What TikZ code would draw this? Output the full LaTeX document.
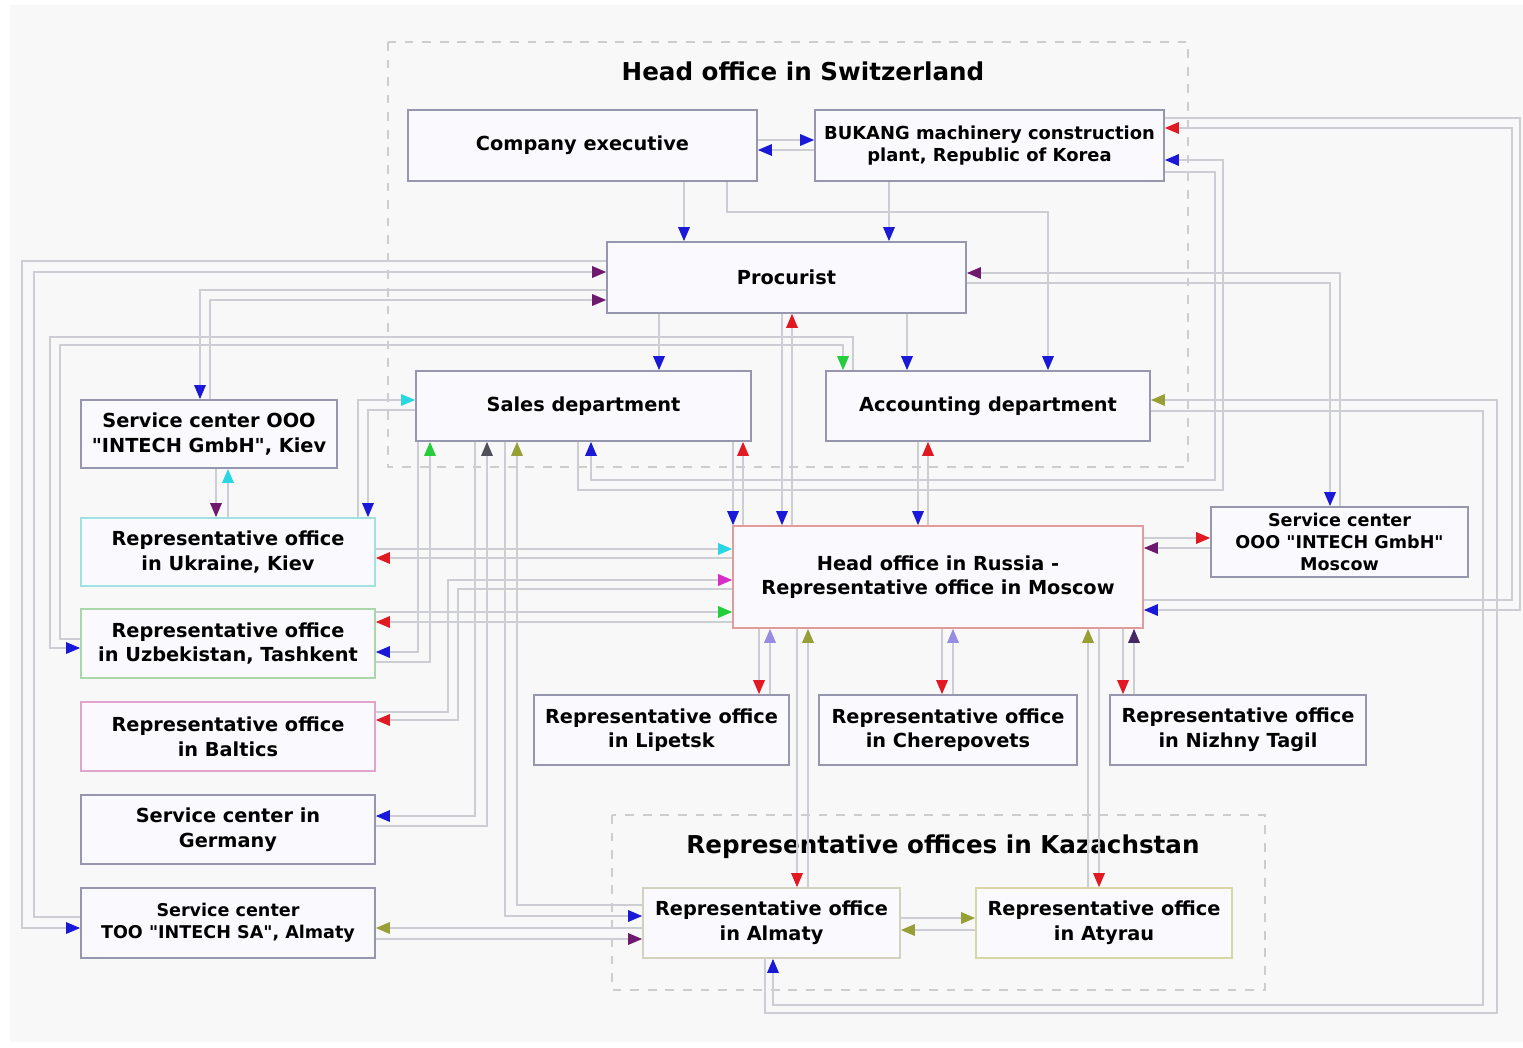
\documentclass[tikz,border=0pt]{standalone}
\usepackage{fontspec}
\setmainfont{DejaVu Sans}
\usetikzlibrary{arrows.meta}
\definecolor{tblue}{RGB}{25,25,215}
\definecolor{tred}{RGB}{225,25,35}
\definecolor{tpurple}{RGB}{110,25,110}
\definecolor{tpurpdark}{RGB}{70,40,100}
\definecolor{tcyan}{RGB}{40,215,225}
\definecolor{tgreen}{RGB}{35,205,60}
\definecolor{tmagenta}{RGB}{215,45,200}
\definecolor{tolive}{RGB}{150,160,55}
\definecolor{tdgray}{RGB}{80,80,90}
\definecolor{tlav}{RGB}{150,140,225}
\definecolor{boxline}{RGB}{150,150,175}
\definecolor{boxfill}{RGB}{250,250,254}
\definecolor{linkgray}{RGB}{205,205,212}
\definecolor{framegray}{RGB}{205,205,205}
\definecolor{bggray}{RGB}{248,248,248}
\definecolor{ukrline}{RGB}{160,225,225}
\definecolor{uzbline}{RGB}{170,215,170}
\definecolor{balline}{RGB}{225,165,205}
\definecolor{rusline}{RGB}{225,155,155}
\definecolor{almline}{RGB}{210,210,190}
\definecolor{atyline}{RGB}{215,215,165}
\newcommand{\qt}{\textquotedbl}
\tikzset{
  box/.style={draw=boxline, fill=boxfill, line width=1pt, align=center,
    inner sep=1pt, font=\bfseries\fontsize{11}{14}\selectfont},
  smallbox/.style={box, font=\bfseries\fontsize{10}{12.5}\selectfont},
  link/.style={draw=linkgray, line width=0.9pt},
  ahead/.style={-{Triangle[length=2.8mm,width=2.3mm,color=#1]}},
  groupframe/.style={draw=framegray, line width=0.9pt, dash pattern=on 5pt off 5pt},
  grouptitle/.style={font=\bfseries\fontsize{14}{16}\selectfont}
}
\begin{document}
\begin{tikzpicture}[x=0.02cm,y=-0.02cm]
\useasboundingbox (0,0) rectangle (1523,1047);
\fill[white] (0,0) rectangle (1523,1047);
\fill[bggray] (10,5) rectangle (1523,1042);
% groups
\draw[groupframe] (388,42) rectangle (1188,467);
\draw[groupframe] (612,815) rectangle (1265,990);
\node[grouptitle] (swisstitle) at (803,71) {Head office in Switzerland};
\node[grouptitle] (kaztitle) at (943,847) {Representative offices in Kazachstan};
% head office in Switzerland
\node[box, minimum width=6.98cm, minimum height=1.42cm] (exec) at (582.5,145.5) {Company executive};
\node[box, font=\bfseries\fontsize{10.2}{13}\selectfont, minimum width=6.98cm, minimum height=1.42cm] (bukang) at (989.5,145.5) {BUKANG machinery construction\\plant, Republic of Korea};
\node[box, minimum width=7.18cm, minimum height=1.42cm] (proc) at (786.5,277.5) {Procurist};
\node[box, minimum width=6.70cm, minimum height=1.40cm] (sales) at (583.5,406) {Sales department};
\node[box, minimum width=6.48cm, minimum height=1.40cm] (acct) at (988,406) {Accounting department};
% left column
\node[box, minimum width=5.12cm, minimum height=1.36cm] (kievsc) at (209,434) {Service center OOO\\\qt INTECH GmbH\qt, Kiev};
\node[box, draw=ukrline, minimum width=5.88cm, minimum height=1.36cm] (ukraine) at (228,552) {Representative office\\in Ukraine, Kiev};
\node[box, draw=uzbline, minimum width=5.88cm, minimum height=1.38cm] (uzbek) at (228,643.5) {Representative office\\in Uzbekistan, Tashkent};
\node[box, draw=balline, minimum width=5.88cm, minimum height=1.38cm] (baltics) at (228,736.5) {Representative office\\in Baltics};
\node[box, minimum width=5.88cm, minimum height=1.38cm] (germany) at (228,829.5) {Service center in\\Germany};
\node[smallbox, minimum width=5.88cm, minimum height=1.40cm] (almatysc) at (228,923) {Service center\\TOO \qt INTECH SA\qt, Almaty};
% Russia
\node[box, draw=rusline, minimum width=8.20cm, minimum height=2.04cm] (russia) at (938,577) {Head office in Russia -\\Representative office in Moscow};
\node[smallbox, minimum width=5.14cm, minimum height=1.40cm] (moscowsc) at (1339.5,542) {Service center\\OOO \qt INTECH GmbH\qt\\Moscow};
\node[box, minimum width=5.10cm, minimum height=1.40cm] (lipetsk) at (661.5,730) {Representative office\\in Lipetsk};
\node[box, minimum width=5.16cm, minimum height=1.40cm] (cherep) at (948,730) {Representative office\\in Cherepovets};
\node[box, minimum width=5.12cm, minimum height=1.40cm] (tagil) at (1238,730) {Representative office\\in Nizhny Tagil};
% Kazachstan
\node[box, draw=almline, minimum width=5.14cm, minimum height=1.40cm] (almaty) at (771.5,923) {Representative office\\in Almaty};
\node[box, draw=atyline, minimum width=5.12cm, minimum height=1.40cm] (atyrau) at (1104,923) {Representative office\\in Atyrau};
% connectors inside Switzerland
\draw[link,ahead=tblue] (exec.east |- 0,140) -- (bukang.west |- 0,140);
\draw[link,ahead=tblue] (bukang.west |- 0,150) -- (exec.east |- 0,150);
\draw[link,ahead=tblue] (exec.south -| 684,0) -- (proc.north -| 684,0);
\draw[link,ahead=tblue] (bukang.south -| 889,0) -- (proc.north -| 889,0);
\draw[link,ahead=tblue] (exec.south -| 727,0) |- (1048,212) -- (acct.north -| 1048,0);
\draw[link,ahead=tblue] (proc.south -| 659,0) -- (sales.north -| 659,0);
\draw[link,ahead=tblue] (proc.south -| 907,0) -- (acct.north -| 907,0);
% Switzerland <-> Russia
\draw[link,ahead=tblue] (proc.south -| 782,0) -- (russia.north -| 782,0);
\draw[link,ahead=tred] (russia.north -| 792,0) -- (proc.south -| 792,0);
\draw[link,ahead=tblue] (sales.south -| 733,0) -- (russia.north -| 733,0);
\draw[link,ahead=tred] (russia.north -| 743,0) -- (sales.south -| 743,0);
\draw[link,ahead=tblue] (acct.south -| 918,0) -- (russia.north -| 918,0);
\draw[link,ahead=tred] (russia.north -| 928,0) -- (acct.south -| 928,0);
% procurist <-> service centers
\draw[link,ahead=tblue] (proc.west |- 0,261) -| (22,928) -- (almatysc.west |- 0,928);
\draw[link,ahead=tpurple] (almatysc.west |- 0,917) -| (34,272) -- (proc.west |- 0,272);
\draw[link,ahead=tblue] (proc.west |- 0,290) -| (kievsc.north -| 200,0);
\draw[link,ahead=tpurple] (kievsc.north -| 210,0) |- (proc.west |- 0,300);
\draw[link,ahead=tblue] (proc.east |- 0,283) -| (moscowsc.north -| 1330,0);
\draw[link,ahead=tpurple] (moscowsc.north -| 1340,0) |- (proc.east |- 0,273);
% accounting <-> Uzbekistan
\draw[link,ahead=tblue] (acct.north -| 853,0) |- (50,337) |- (uzbek.west |- 0,648);
\draw[link,ahead=tgreen] (uzbek.west |- 0,639) -| (60,345) -| (acct.north -| 843,0);
% sales <-> Ukraine, Kiev
\draw[link,ahead=tblue] (sales.west |- 0,410) -| (ukraine.north -| 368,0);
\draw[link,ahead=tcyan] (ukraine.north -| 358,0) |- (sales.west |- 0,400);
\draw[link,ahead=tpurple] (kievsc.south -| 216,0) -- (ukraine.north -| 216,0);
\draw[link,ahead=tcyan] (ukraine.north -| 228,0) -- (kievsc.south -| 228,0);
% Russia <-> west offices
\draw[link,ahead=tcyan] (ukraine.east |- 0,549) -- (russia.west |- 0,549);
\draw[link,ahead=tred] (russia.west |- 0,558) -- (ukraine.east |- 0,558);
\draw[link,ahead=tmagenta] (baltics.east |- 0,712) -| (448,580) -- (russia.west |- 0,580);
\draw[link,ahead=tred] (russia.west |- 0,589) -| (458,720) -- (baltics.east |- 0,720);
\draw[link,ahead=tgreen] (uzbek.east |- 0,612) -- (russia.west |- 0,612);
\draw[link,ahead=tred] (russia.west |- 0,622) -- (uzbek.east |- 0,622);
% sales <-> left offices
\draw[link,ahead=tblue] (sales.south -| 418,0) |- (uzbek.east |- 0,652);
\draw[link,ahead=tgreen] (uzbek.east |- 0,662) -| (sales.south -| 430,0);
\draw[link,ahead=tblue] (sales.south -| 475,0) |- (germany.east |- 0,816);
\draw[link,ahead=tdgray] (germany.east |- 0,826) -| (sales.south -| 487,0);
\draw[link,ahead=tblue] (sales.south -| 505,0) |- (almaty.west |- 0,916);
\draw[link,ahead=tolive] (almaty.west |- 0,905) -| (sales.south -| 517,0);
% Almaty
\draw[link,ahead=tolive] (almaty.west |- 0,928) -- (almatysc.east |- 0,928);
\draw[link,ahead=tpurple] (almatysc.east |- 0,939) -- (almaty.west |- 0,939);
\draw[link,ahead=tolive] (almaty.east |- 0,918) -- (atyrau.west |- 0,918);
\draw[link,ahead=tolive] (atyrau.west |- 0,930) -- (almaty.east |- 0,930);
% Russia <-> offices below
\draw[link,ahead=tred] (russia.south -| 759,0) -- (lipetsk.north -| 759,0);
\draw[link,ahead=tlav] (lipetsk.north -| 770,0) -- (russia.south -| 770,0);
\draw[link,ahead=tred] (russia.south -| 797,0) -- (almaty.north -| 797,0);
\draw[link,ahead=tolive] (almaty.north -| 808,0) -- (russia.south -| 808,0);
\draw[link,ahead=tred] (russia.south -| 942,0) -- (cherep.north -| 942,0);
\draw[link,ahead=tlav] (cherep.north -| 953,0) -- (russia.south -| 953,0);
\draw[link,ahead=tred] (russia.south -| 1099,0) -- (atyrau.north -| 1099,0);
\draw[link,ahead=tolive] (atyrau.north -| 1088,0) -- (russia.south -| 1088,0);
\draw[link,ahead=tred] (russia.south -| 1123,0) -- (tagil.north -| 1123,0);
\draw[link,ahead=tpurpdark] (tagil.north -| 1134,0) -- (russia.south -| 1134,0);
% Russia <-> Moscow service center
\draw[link,ahead=tred] (russia.east |- 0,538) -- (moscowsc.west |- 0,538);
\draw[link,ahead=tpurple] (moscowsc.west |- 0,548) -- (russia.east |- 0,548);
% long loops on the right
\draw[link,ahead=tblue] (sales.south -| 578,0) |- (1223,490) |- (bukang.east |- 0,160);
\draw[link,ahead=tblue] (bukang.east |- 0,172) -| (1215,480) -| (sales.south -| 591,0);
\draw[link,ahead=tblue] (acct.east |- 0,411) -| (1483,1005) -| (almaty.south -| 773,0);
\draw[link,ahead=tolive] (almaty.south -| 765,0) |- (1497,1013) |- (acct.east |- 0,400);
\draw[link,ahead=tblue] (bukang.east |- 0,118) -| (1520,610) -- (russia.east |- 0,610);
\draw[link,ahead=tred] (russia.east |- 0,600) -| (1512,128) -- (bukang.east |- 0,128);
\end{tikzpicture}
\end{document}
